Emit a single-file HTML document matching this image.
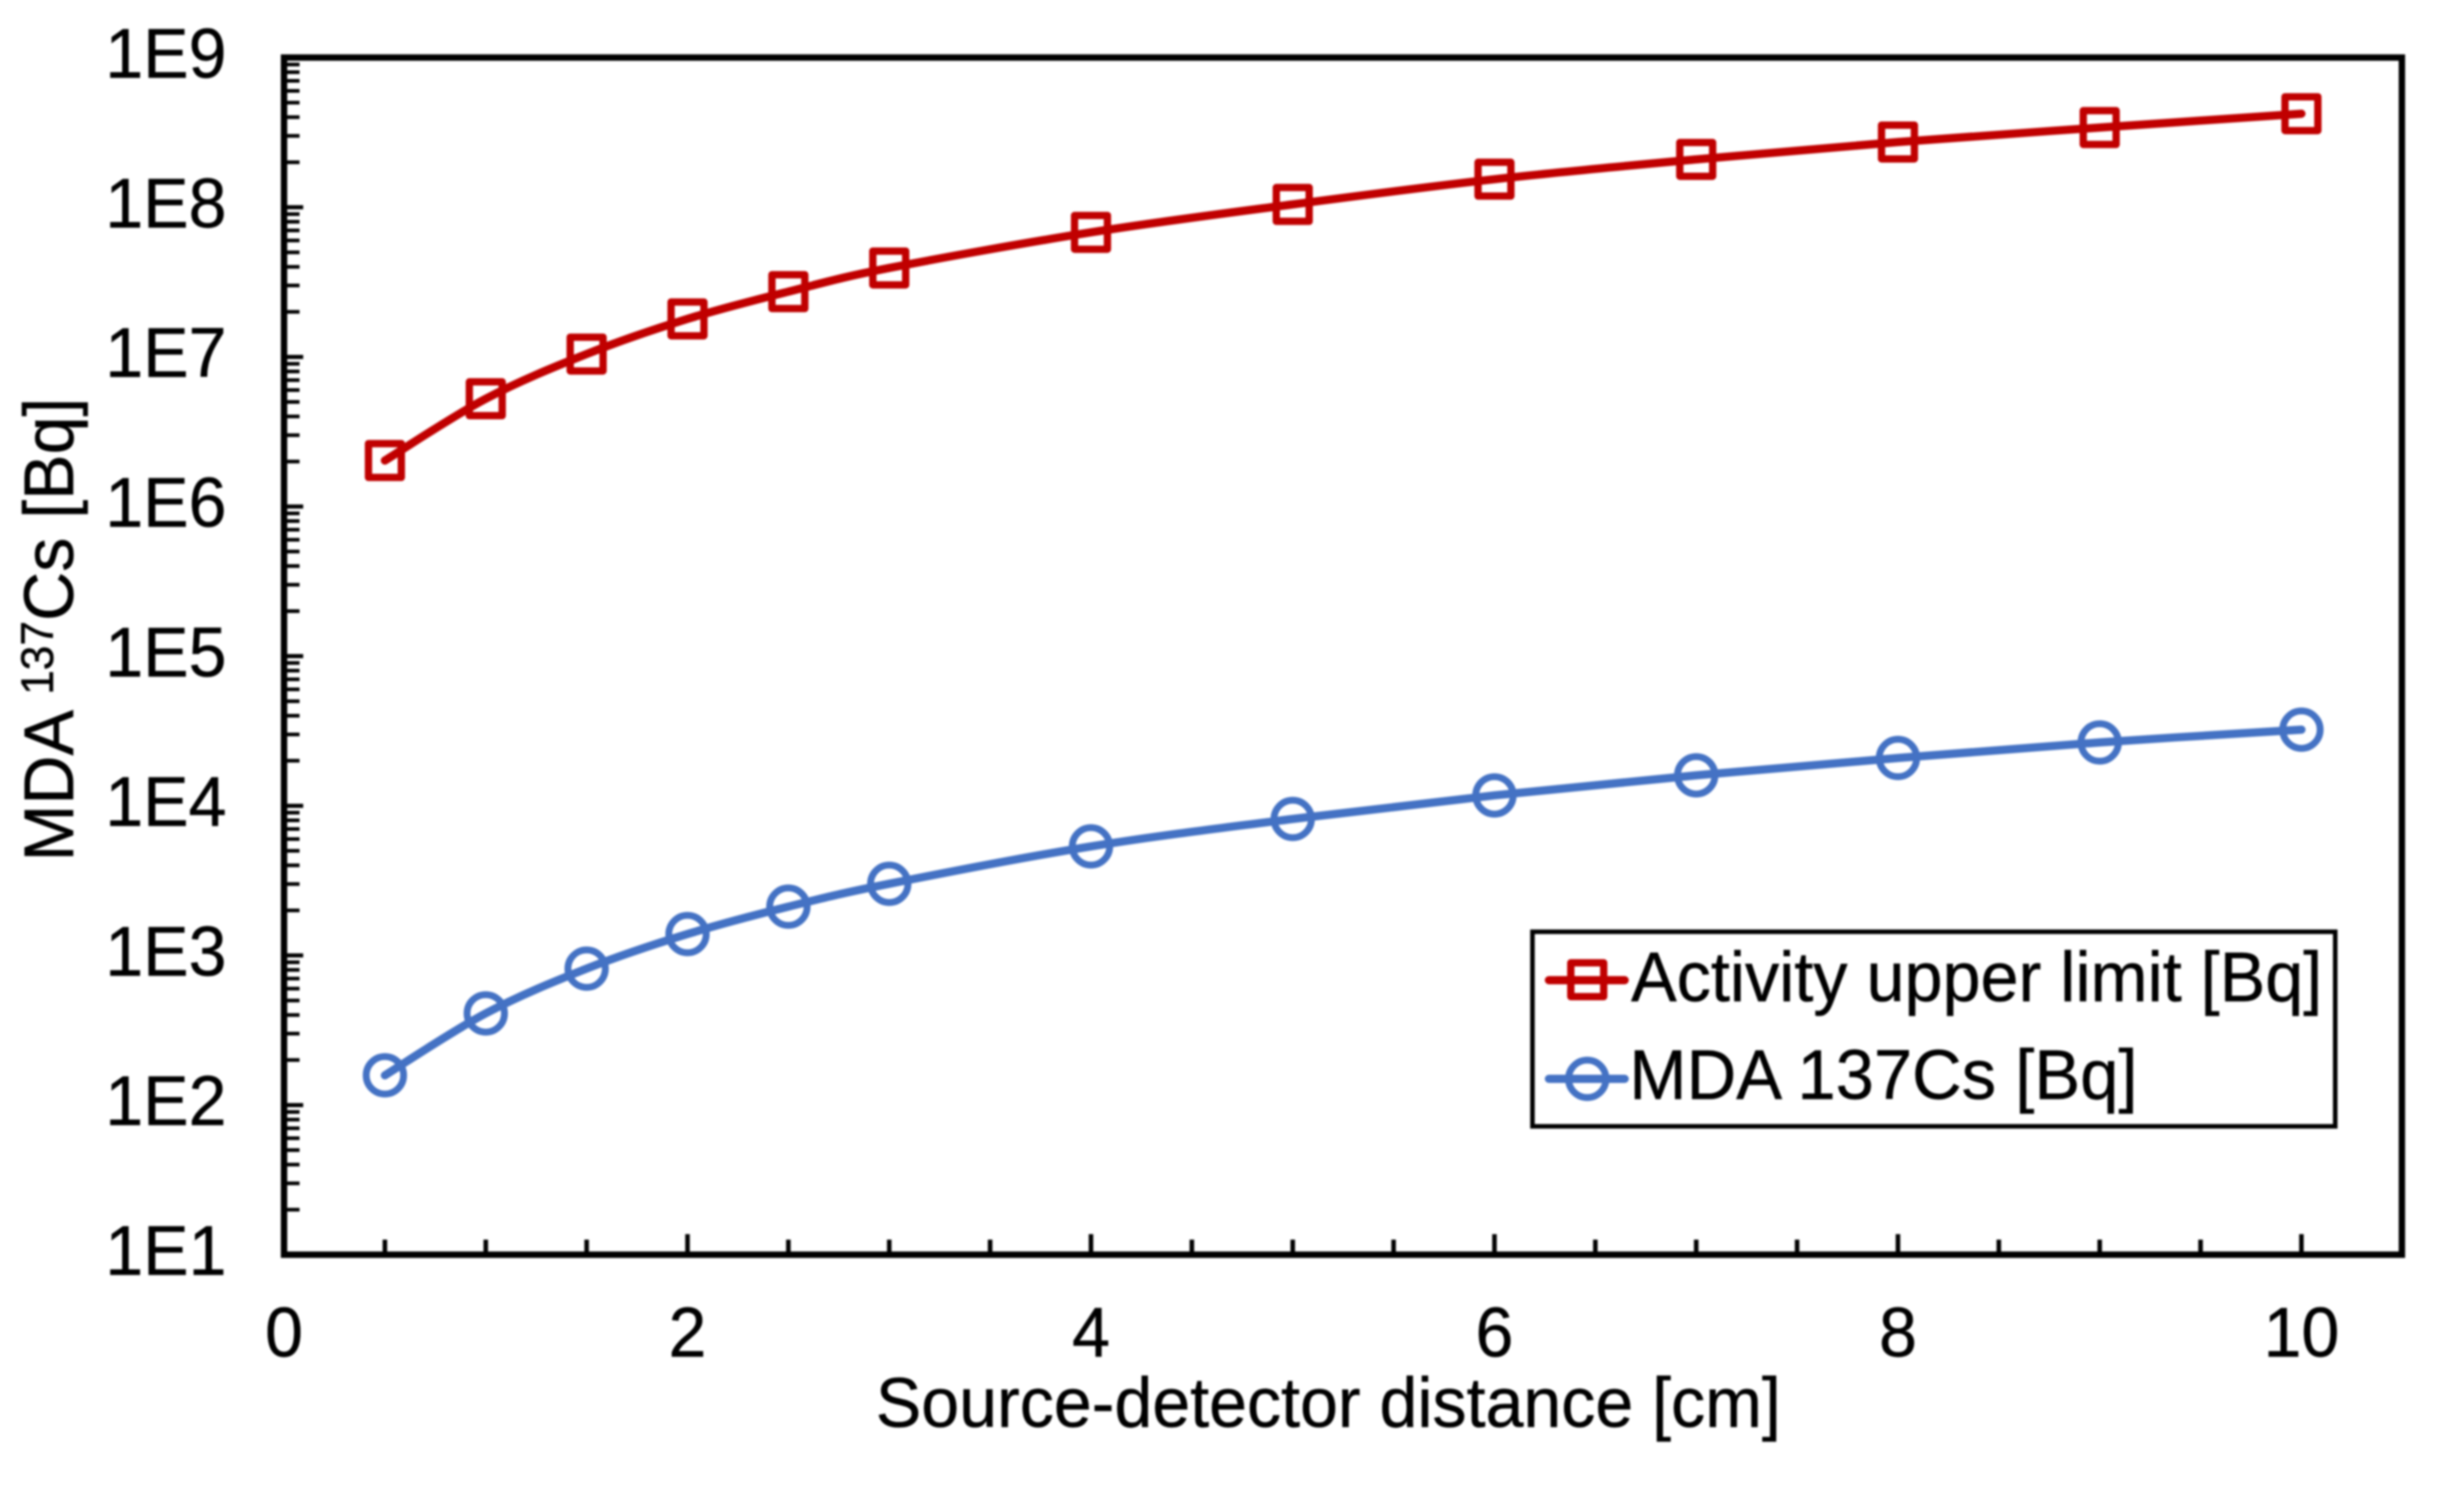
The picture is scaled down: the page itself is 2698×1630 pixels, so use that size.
<!DOCTYPE html>
<html lang="en">
<head>
<meta charset="utf-8">
<title>MDA and activity upper limit vs source-detector distance</title>
<style>
  html, body { margin: 0; padding: 0; background: #fff; }
  svg { display: block; filter: blur(1px); }
  text { font-family: "Liberation Sans", Arial, sans-serif; fill: #000; font-size: 77px; stroke: #000; stroke-width: 0.5px; }
</style>
</head>
<body>
<svg id="chart" xmlns="http://www.w3.org/2000/svg" width="2698" height="1630" viewBox="0 0 2698 1630">
  <rect x="0" y="0" width="2698" height="1630" fill="#fff"/>
  <g id="y-ticks"></g>
  <g id="x-ticks"></g>
  <rect x="311" y="63" width="2319" height="1310.5" fill="none" stroke="#000" stroke-width="7"/>
  <g id="y-labels"></g>
  <g id="x-labels"></g>
  <g id="series"></g>
  <text transform="translate(1454.5,1562) scale(0.969,1)" text-anchor="middle">Source-detector distance [cm]</text>
  <text transform="translate(80,943) rotate(-90) scale(0.969,1)">MDA <tspan dy="-22" style="font-size:50px">137</tspan><tspan dy="22">Cs [Bq]</tspan></text>
  <g>
    <rect x="1678" y="1020" width="879" height="213" fill="#fff" stroke="#000" stroke-width="5"/>
    <g>
      <line x1="1696" y1="1073" x2="1779" y2="1073" stroke="#C00000" stroke-width="9" stroke-linecap="round"/>
      <rect x="1720" y="1054" width="36" height="37" fill="none" stroke="#C00000" stroke-width="8" stroke-linejoin="round"/>
      <text transform="translate(1786,1096) scale(0.972,1)">Activity upper limit [Bq]</text>
    </g>
    <g>
      <line x1="1696" y1="1181" x2="1779" y2="1181" stroke="#4472C4" stroke-width="9" stroke-linecap="round"/>
      <circle cx="1738" cy="1181" r="20.5" fill="none" stroke="#4472C4" stroke-width="7.5"/>
      <text transform="translate(1784,1203) scale(0.978,1)">MDA 137Cs [Bq]</text>
    </g>
  </g>
</svg>
<script>
const distances = [0.5, 1, 1.5, 2, 2.5, 3, 4, 5, 6, 7, 8, 9, 10];
const activityUpperLimit = [2.03e6, 5.25e6, 1.045e7, 1.795e7, 2.73e7, 3.93e7, 6.8e7, 1.045e8, 1.54e8, 2.09e8, 2.73e8, 3.41e8, 4.22e8];
const mda137Cs = [158, 410, 816, 1390, 2118, 3012, 5355, 8165, 11740, 15990, 20880, 26520, 32290];
const yTickExponents = [1, 2, 3, 4, 5, 6, 7, 8, 9];
const yTickLabels = ["1E1", "1E2", "1E3", "1E4", "1E5", "1E6", "1E7", "1E8", "1E9"];
const xTickLabels = [0, 2, 4, 6, 8, 10];
const xMinorTicks = [0.5, 1, 1.5, 2.5, 3, 3.5, 4.5, 5, 5.5, 6.5, 7, 7.5, 8.5, 9, 9.5];

const SVG_NS = "http://www.w3.org/2000/svg";
const xScale = v => 311 + v * 220.9;
const yScale = v => 1373.5 - (Math.log10(v) - 1) * 163.8;
const textSquash = 0.969;

function tickLine(parent, x1, y1, x2, y2) {
  const l = document.createElementNS(SVG_NS, "line");
  l.setAttribute("x1", x1);
  l.setAttribute("y1", y1);
  l.setAttribute("x2", x2);
  l.setAttribute("y2", y2);
  l.setAttribute("stroke", "#000");
  parent.appendChild(l);
  return l;
}

const yTicksGroup = document.getElementById("y-ticks");
const yLabelsGroup = document.getElementById("y-labels");
yTickExponents.forEach((exp, i) => {
  const base = Math.pow(10, exp);
  if (exp < 9) {
    const major = tickLine(yTicksGroup, 311, yScale(base), 332, yScale(base));
    major.setAttribute("stroke-width", "4.5");
    
    
    for (let m = 2; m <= 9; m++) {
      const minor = tickLine(yTicksGroup, 311, yScale(base * m), 328, yScale(base * m));
      minor.setAttribute("stroke-width", "4");
      
      
    }
  }
  const label = document.createElementNS(SVG_NS, "text");
  label.setAttribute("transform", "translate(248," + (yScale(base) + 22) + ") scale(" + textSquash + ",1)");
  label.setAttribute("text-anchor", "end");
  label.textContent = yTickLabels[i];
  
  
  yLabelsGroup.appendChild(label);
});

const xTicksGroup = document.getElementById("x-ticks");
const xLabelsGroup = document.getElementById("x-labels");
xMinorTicks.forEach(v => {
  const t = tickLine(xTicksGroup, xScale(v), 1373, xScale(v), 1357);
  t.setAttribute("stroke-width", "5");
  
  
});
xTickLabels.forEach(v => {
  const t = tickLine(xTicksGroup, xScale(v), 1373, xScale(v), 1351);
  t.setAttribute("stroke-width", "5");
  
  
  const label = document.createElementNS(SVG_NS, "text");
  label.setAttribute("transform", "translate(" + xScale(v) + ",1485) scale(" + textSquash + ",1)");
  label.setAttribute("text-anchor", "middle");
  label.textContent = String(v);
  
  
  xLabelsGroup.appendChild(label);
});

function smoothPath(points) {
  let d = "M" + points[0][0] + " " + points[0][1];
  for (let i = 0; i < points.length - 1; i++) {
    const p0 = points[Math.max(i - 1, 0)];
    const p1 = points[i];
    const p2 = points[i + 1];
    const p3 = points[Math.min(i + 2, points.length - 1)];
    const c1x = p1[0] + (p2[0] - p0[0]) / 6;
    const c1y = p1[1] + (p2[1] - p0[1]) / 6;
    const c2x = p2[0] - (p3[0] - p1[0]) / 6;
    const c2y = p2[1] - (p3[1] - p1[1]) / 6;
    d += " C" + c1x + " " + c1y + " " + c2x + " " + c2y + " " + p2[0] + " " + p2[1];
  }
  return d;
}

const seriesLayer = document.getElementById("series");

const activityGroup = document.createElementNS(SVG_NS, "g");


seriesLayer.appendChild(activityGroup);
const activityPoints = distances.map((x, i) => [xScale(x), yScale(activityUpperLimit[i])]);
const activityLine = document.createElementNS(SVG_NS, "path");
activityLine.setAttribute("d", smoothPath(activityPoints));
activityLine.setAttribute("fill", "none");
activityLine.setAttribute("stroke", "#C00000");
activityLine.setAttribute("stroke-width", "9");
activityLine.setAttribute("stroke-linecap", "round");


activityGroup.appendChild(activityLine);
activityPoints.forEach(p => {
  const m = document.createElementNS(SVG_NS, "rect");
  m.setAttribute("x", p[0] - 18);
  m.setAttribute("y", p[1] - 18.5);
  m.setAttribute("width", 36);
  m.setAttribute("height", 37);
  m.setAttribute("fill", "none");
  m.setAttribute("stroke", "#C00000");
  m.setAttribute("stroke-width", "8");
  m.setAttribute("stroke-linejoin", "round");
  
  
  activityGroup.appendChild(m);
});

const mdaGroup = document.createElementNS(SVG_NS, "g");


seriesLayer.appendChild(mdaGroup);
const mdaPoints = distances.map((x, i) => [xScale(x), yScale(mda137Cs[i])]);
const mdaLine = document.createElementNS(SVG_NS, "path");
mdaLine.setAttribute("d", smoothPath(mdaPoints));
mdaLine.setAttribute("fill", "none");
mdaLine.setAttribute("stroke", "#4472C4");
mdaLine.setAttribute("stroke-width", "9");
mdaLine.setAttribute("stroke-linecap", "round");


mdaGroup.appendChild(mdaLine);
mdaPoints.forEach(p => {
  const m = document.createElementNS(SVG_NS, "circle");
  m.setAttribute("cx", p[0]);
  m.setAttribute("cy", p[1]);
  m.setAttribute("r", 20.5);
  m.setAttribute("fill", "none");
  m.setAttribute("stroke", "#4472C4");
  m.setAttribute("stroke-width", "7.5");
  
  
  mdaGroup.appendChild(m);
});
</script>
</body>
</html>
